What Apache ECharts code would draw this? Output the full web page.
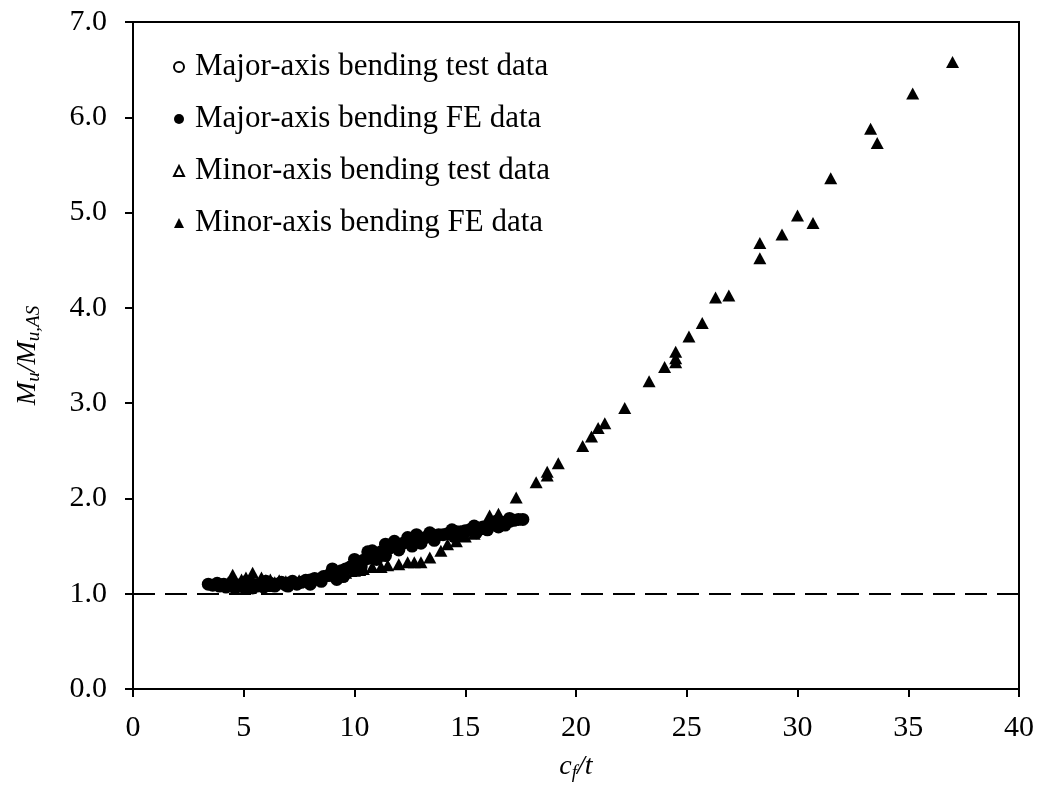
<!DOCTYPE html>
<html>
<head>
<meta charset="utf-8">
<script src="https://cdn.jsdelivr.net/npm/echarts@6/dist/echarts.min.js"></script>
<style>
  html, body { margin: 0; padding: 0; background: #fff; }
  #chart { width: 1040px; height: 789px; }
</style>
</head>
<body>
<div id="chart"></div>
<script>
// 数据 (c_f/t, M_u/M_u,AS)
var majorTest = [[4.0,1.09],[5.5,1.09],[8.0,1.14],[12.0,1.50],[15.0,1.65]];

var majorFE = [
  [3.4,1.10],[3.6,1.09],[3.8,1.11],[3.9,1.08],[4.1,1.10],[4.2,1.07],[4.4,1.09],[4.5,1.11],
  [4.6,1.06],[4.8,1.08],[4.9,1.10],[5.0,1.07],[5.2,1.09],[5.3,1.11],[5.4,1.06],[5.6,1.08],
  [5.7,1.10],[5.9,1.07],[6.0,1.09],[6.2,1.11],[6.4,1.08],[6.5,1.10],[6.7,1.12],[6.9,1.09],
  [7.0,1.11],[7.2,1.13],[7.4,1.10],[7.6,1.12],[7.8,1.14],[8.0,1.13],[8.2,1.16],[8.4,1.15],
  [8.6,1.18],[8.8,1.19],[9.0,1.21],[9.2,1.20],[9.4,1.24],[9.6,1.26],[9.8,1.28],[10.0,1.30],
  [10.2,1.33],[10.4,1.35],[10.6,1.37],[10.8,1.40],[11.0,1.42],[11.2,1.44],[11.4,1.46],[11.6,1.48],
  [11.8,1.50],[12.0,1.52],[12.2,1.53],[12.4,1.55],[12.6,1.56],[12.8,1.57],[13.0,1.58],[13.2,1.59],
  [13.4,1.60],[13.6,1.61],[13.8,1.62],[14.0,1.62],[14.2,1.63],[14.4,1.64],[14.6,1.65],[14.8,1.65],
  [15.0,1.66],[15.2,1.67],[15.4,1.68],[15.6,1.69],[15.8,1.70],[16.0,1.71],[16.2,1.72],[16.4,1.73],
  [16.6,1.74],[16.8,1.75],[17.0,1.76],[17.2,1.77],[17.4,1.78],[17.6,1.78],
  [6.0,1.13],[7.0,1.08],[8.0,1.10],[8.5,1.13],[9.5,1.18],[10.3,1.28],[11.0,1.36],[12.0,1.46],
  [13.0,1.53],[10.8,1.45],[11.8,1.55],[12.8,1.62],[14.5,1.60],[15.5,1.64],[16.5,1.70],[9.0,1.26],
  [10.0,1.36],[10.6,1.44],[11.4,1.52],[12.4,1.59],[13.4,1.64],[14.4,1.67],[15.4,1.71],[16.4,1.76],
  [17.0,1.79],[11.4,1.40],[12.6,1.50],[13.6,1.56],[14.8,1.61],[16.0,1.67],[16.8,1.72],[9.2,1.15]
];

var minorTest = [[5.0,1.12],[6.0,1.13],[9.8,1.24],[10.2,1.25]];

var minorFE = [
  [4.3,1.12],[4.5,1.20],[4.7,1.08],[4.9,1.15],[5.1,1.17],[5.3,1.06],[5.4,1.22],[5.6,1.10],
  [5.8,1.17],[6.0,1.08],[6.2,1.15],[6.4,1.12],[6.6,1.14],[6.9,1.13],[7.2,1.12],[7.5,1.14],
  [7.8,1.13],[8.1,1.15],[8.4,1.17],[8.8,1.19],[9.2,1.20],[9.6,1.22],[10.0,1.24],[10.4,1.26],
  [10.8,1.28],[11.2,1.28],[11.5,1.30],[12.0,1.31],[12.4,1.33],[12.7,1.33],[13.0,1.33],[13.4,1.38],
  [13.9,1.45],[14.2,1.52],[14.6,1.55],[15.0,1.60],[15.4,1.63],[15.8,1.68],[16.1,1.82],[16.5,1.84],
  [17.3,2.01],[18.2,2.17],[18.7,2.24],[18.7,2.28],[19.2,2.37],[20.3,2.55],[20.7,2.65],[21.0,2.74],
  [21.3,2.79],[22.2,2.95],[23.3,3.23],[24.0,3.38],[24.5,3.43],[24.5,3.47],[24.5,3.54],[25.1,3.70],
  [25.7,3.84],[26.3,4.11],[26.9,4.13],[28.3,4.52],[28.3,4.68],[29.3,4.77],[30.0,4.97],[30.7,4.89],
  [31.5,5.36],[33.3,5.88],[33.6,5.73],[35.2,6.25],[37.0,6.58]
];

var seriesNames = [
  'Major-axis bending test data',
  'Major-axis bending FE data',
  'Minor-axis bending test data',
  'Minor-axis bending FE data'
];

var serif = '"Liberation Serif", "Times New Roman", serif';

var myChart = echarts.init(document.getElementById('chart'));

myChart.setOption({
  animation: false,
  grid: {
    left: 133, right: 21, top: 22, bottom: 100,
    show: true, borderColor: '#000', borderWidth: 2, backgroundColor: 'transparent'
  },
  legend: {
    orient: 'vertical',
    left: 168,
    top: 45,
    itemWidth: 10,
    itemHeight: 10,
    itemGap: 18,
    data: seriesNames,
    textStyle: { fontFamily: serif, fontSize: 31, color: '#000', lineHeight: 34, padding: [0, 0, 0, 6] }
  },
  xAxis: {
    type: 'value',
    min: 0, max: 40, interval: 5,
    splitLine: { show: false },
    axisLine: { onZero: false, lineStyle: { color: '#000', width: 2 } },
    axisTick: { show: true, inside: false, length: 8, lineStyle: { color: '#000', width: 2 } },
    axisLabel: { fontFamily: serif, fontSize: 30, color: '#000', margin: 24 },
    name: '{i|c}{s|f}{i|/t}',
    nameLocation: 'middle',
    nameGap: 62,
    nameTextStyle: {
      rich: {
        i: { fontFamily: serif, fontStyle: 'italic', fontSize: 28, color: '#000' },
        s: { fontFamily: serif, fontStyle: 'italic', fontSize: 19, color: '#000', padding: [12, 0, 0, 0] }
      }
    }
  },
  yAxis: {
    type: 'value',
    min: 0, max: 7, interval: 1,
    splitLine: { show: false },
    axisLine: { onZero: false, lineStyle: { color: '#000', width: 2 } },
    axisTick: { show: true, inside: false, length: 8, lineStyle: { color: '#000', width: 2 } },
    axisLabel: {
      fontFamily: serif, fontSize: 30, color: '#000', margin: 26,
      formatter: function (v) { return v.toFixed(1); }
    },
    name: '{i|M}{s|u}{i|/M}{s|u,AS}',
    nameLocation: 'middle',
    nameGap: 90,
    nameTextStyle: {
      rich: {
        i: { fontFamily: serif, fontStyle: 'italic', fontSize: 28, color: '#000' },
        s: { fontFamily: serif, fontStyle: 'italic', fontSize: 19, color: '#000', padding: [12, 0, 0, 0] }
      }
    }
  },
  series: [
    {
      name: seriesNames[0],
      type: 'scatter',
      z: 2,
      symbol: 'circle',
      symbolSize: 12,
      itemStyle: { color: '#fff', borderColor: '#000', borderWidth: 1.5, opacity: 1 },
      data: majorTest
    },
    {
      name: seriesNames[1],
      type: 'scatter',
      z: 4,
      symbol: 'circle',
      symbolSize: 13,
      itemStyle: { color: '#000', opacity: 1 },
      data: majorFE,
      markLine: {
        silent: true,
        symbol: 'none',
        label: { show: false },
        lineStyle: { color: '#000', width: 2, type: [22, 10], opacity: 1 },
        data: [{ yAxis: 1 }]
      }
    },
    {
      name: seriesNames[2],
      type: 'scatter',
      z: 2,
      symbol: 'triangle',
      symbolSize: [12, 11],
      itemStyle: { color: '#fff', borderColor: '#000', borderWidth: 1.5, opacity: 1 },
      data: minorTest
    },
    {
      name: seriesNames[3],
      type: 'scatter',
      z: 3,
      symbol: 'triangle',
      symbolSize: [13, 12],
      itemStyle: { color: '#000', opacity: 1 },
      data: minorFE
    }
  ]
});
</script>
</body>
</html>
